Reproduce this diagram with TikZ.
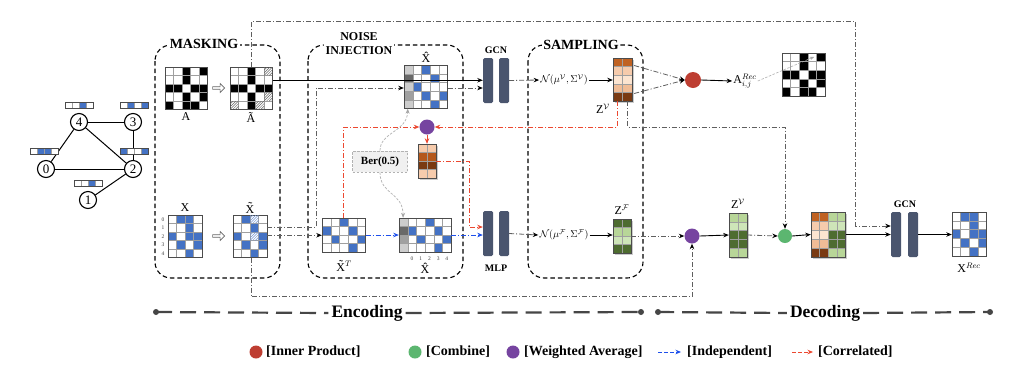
\documentclass[tikz,border=0pt]{standalone}
\usepackage{fontspec}
\setmainfont{Liberation Serif}
\usetikzlibrary{arrows.meta,calc,shapes.arrows}
\definecolor{cw}{RGB}{255,255,255}
\definecolor{cB}{RGB}{68,114,196}
\definecolor{cK}{RGB}{0,0,0}
\definecolor{cH}{RGB}{255,255,255}
\definecolor{cg}{RGB}{205,205,205}
\definecolor{cd}{RGB}{105,105,105}
\definecolor{cm}{RGB}{160,160,160}
\definecolor{cp}{RGB}{246,203,172}
\definecolor{cq}{RGB}{252,228,208}
\definecolor{cr}{RGB}{192,98,34}
\definecolor{cs}{RGB}{122,58,18}
\definecolor{ct}{RGB}{240,188,150}
\definecolor{cu}{RGB}{180,88,28}
\definecolor{cD}{RGB}{78,108,48}
\definecolor{cL}{RGB}{184,214,152}
\definecolor{cM}{RGB}{206,229,184}
\definecolor{barcol}{RGB}{74,85,110}
\definecolor{ddcol}{RGB}{95,95,95}
\definecolor{redl}{RGB}{236,72,48}
\definecolor{bluel}{RGB}{30,80,235}
\definecolor{redc}{RGB}{190,62,50}
\definecolor{greenc}{RGB}{92,182,112}
\definecolor{purpc}{RGB}{118,68,160}
\definecolor{encc}{RGB}{70,70,70}
\newcommand\drawmat[8]{%
  \foreach \rowlist [count=\ri from 0] in {#8} {%
    \foreach \cellc [count=\ci from 0] in \rowlist {%
      \fill[fill=c\cellc] ({#2+\ci*#4},{#3+\ri*#5}) rectangle ++(#4,#5);
    }%
  }%
  \foreach \ci in {0,...,#6} \draw[gridln] ({#2+\ci*#4},#3) -- ++(0,{#7*#5});
  \foreach \ri in {0,...,#7} \draw[gridln] (#2,{#3+\ri*#5}) -- ++({#6*#4},0);
  \draw[matborder] (#2,#3) rectangle ++({#6*#4},{#7*#5});
  \node[inner sep=0pt,minimum width={#6*#4},minimum height={#7*#5}] (#1) at ({#2+#6*#4/2},{#3+#7*#5/2}) {};
}
\newcommand\hatchcell[5]{%
  \begin{scope}
    \clip (#1,#2) rectangle ++(#3,#4);
    \foreach \k in {-3,...,4} \draw[#5,line width=0.5pt] ({#1+\k*2.6},{#2+#4}) -- ++(#4,{-#4});
  \end{scope}}
\newcommand\shadowbox[4]{\fill[black,opacity=0.2] ({#1+1.8},{#2+1.8}) rectangle ++(#3,#4);}
\begin{document}
\begin{tikzpicture}[x=1pt,y=-1pt,
  gridln/.style={draw=gray!75,line width=0.4pt},
  matborder/.style={draw=black!70,line width=0.7pt},
  gnode/.style={circle,draw,line width=1.1pt,fill=white,minimum size=17pt,inner sep=0pt,font=\fontsize{13}{13}\selectfont},
  gedge/.style={line width=1pt},
  region/.style={draw,line width=1.1pt,dash pattern=on 4.5pt off 3pt,rounded corners=16pt},
  reglab/.style={font=\fontsize{14}{16}\selectfont\bfseries,fill=white,inner sep=1.5pt},
  bar/.style={rectangle,rounded corners=1.5pt,fill=barcol,minimum width=10pt,minimum height=45pt,inner sep=0pt},
  barlab/.style={font=\fontsize{10}{11}\selectfont\bfseries},
  mlab/.style={font=\fontsize{12}{13}\selectfont,inner sep=1pt},
  dd/.style={dash pattern=on 5pt off 2pt on 1pt off 2pt,line width=0.8pt},
  ddarr/.style={dd,draw=ddcol,-{Stealth[length=5.5pt,width=4.5pt,color=black]}},
  sarr/.style={line width=0.9pt,-{Stealth[length=5.5pt,width=4.5pt]}},
  rarr/.style={dd,draw=redl,-{Stealth[length=5.5pt,width=4.5pt,color=redl]}},
  barr/.style={dd,draw=bluel,-{Stealth[length=5.5pt,width=4.5pt,color=bluel]}},
  dotn/.style={circle,minimum size=15pt,inner sep=0pt},
  holarr/.style={single arrow,draw=black!60,fill=white,minimum height=12pt,minimum width=9pt,single arrow head extend=2pt,inner sep=0.5pt,line width=0.6pt},
  bercurve/.style={draw=gray!60,line width=0.7pt,dash pattern=on 2.5pt off 1.5pt,-{Stealth[length=5pt,width=4pt,color=gray!70]}},
  encl/.style={draw=encc,line width=2.2pt,dash pattern=on 16pt off 8pt},
  legt/.style={font=\fontsize{14}{15}\selectfont\bfseries,anchor=west,inner sep=1pt},
  tiny5/.style={font=\fontsize{5.5}{6}\selectfont,text=black!75,inner sep=0pt}
]
\useasboundingbox (0,0) rectangle (1024,373);
\fill[white] (0,0) rectangle (1024,373);

% ---------- regions
\draw[region] (155,45) rectangle (280,278);
\draw[region] (308,45) rectangle (463,278);
\draw[region] (528,45) rectangle (643,278);

% ---------- graph
\node[gnode] (n4) at (79,122) {4};
\node[gnode] (n3) at (133,122) {3};
\node[gnode] (n0) at (46,169) {0};
\node[gnode] (n2) at (133,169) {2};
\node[gnode] (n1) at (88,200) {1};
\draw[gedge] (n4) -- (n3);
\draw[gedge] (n4) -- (n0);
\draw[gedge] (n4) -- (n2);
\draw[gedge] (n0) -- (n2);
\draw[gedge] (n3) -- (n2);
\draw[gedge] (n2) -- (n1);
\drawmat{f4}{65}{102}{7}{6}{4}{1}{{w,w,B,w}}
\drawmat{f3}{120}{102}{7}{6}{4}{1}{{w,B,w,B}}
\drawmat{f0}{30}{148}{7}{6}{4}{1}{{w,B,B,w}}
\drawmat{f2}{120}{148}{7}{6}{4}{1}{{B,w,w,B}}
\drawmat{f1}{74}{180}{7}{6}{4}{1}{{w,w,B,w}}

% ---------- masking
\drawmat{A}{165}{67}{8.5}{8.5}{5}{5}{{w,w,K,w,K},{w,w,K,w,w},{K,K,w,K,K},{w,w,K,w,K},{K,w,K,K,w}}
\drawmat{At}{230}{67}{8.5}{8.5}{5}{5}{{w,w,K,w,H},{w,w,K,w,w},{K,K,w,K,K},{w,w,K,w,H},{H,w,K,H,w}}
\hatchcell{264}{67}{8.5}{8.5}{black!60}
\hatchcell{264}{92.5}{8.5}{8.5}{black!60}
\hatchcell{230}{101}{8.5}{8.5}{black!60}
\hatchcell{255.5}{101}{8.5}{8.5}{black!60}
\drawmat{X}{168}{215}{8.5}{8.5}{4}{5}{{w,B,B,w},{w,w,B,w},{B,w,B,B},{w,B,w,B},{w,w,B,w}}
\drawmat{Xt}{233}{215}{8.5}{8.5}{4}{5}{{w,B,H,w},{w,w,B,w},{B,w,H,B},{w,B,w,B},{w,w,B,w}}
\hatchcell{250}{215}{8.5}{8.5}{cB!75}
\hatchcell{250}{232}{8.5}{8.5}{cB!75}
\foreach \k in {0,...,4} \node[tiny5] (xr\k) at (163,{219.25+\k*8.5}) {\k};
\node[holarr] (ha1) at (218,88) {};
\node[holarr] (ha2) at (218,236) {};
\node[mlab] (lA) at (186,117) {A};
\node[mlab] (lAt) at (251,117) {\~A};
\node[mlab] (lX) at (185,208) {X};
\node[mlab] (lXt) at (250,208) {\~X};

% ---------- noise injection
\drawmat{XT}{322}{218}{8.7}{8.5}{5}{4}{{w,w,B,w,w},{B,w,w,B,w},{w,B,w,w,B},{w,w,w,B,w}}
\drawmat{Xhb}{399}{218}{8.7}{8.5}{6}{4}{{g,w,w,B,w,w},{d,B,w,w,B,w},{m,w,B,w,w,B},{g,w,w,w,B,w}}
\foreach \k in {0,...,4} \node[tiny5] (xc\k) at ({399+8.7*(\k+1)+4.35},259) {\k};
\drawmat{Xht}{404}{65}{8.7}{8.7}{5}{5}{{g,w,B,w,w},{d,w,w,B,w},{g,B,w,w,w},{m,w,B,w,B},{g,w,w,B,w}}
\shadowbox{418}{144}{18}{34}
\drawmat{noise}{418}{144}{9}{8.5}{2}{4}{{p,p},{u,u},{s,s},{p,p}}
\node[mlab] (lXT) at (344,266) {\~X$^{T}$};
\node[mlab] (lXhb) at (425,268) {\^X};
\node[mlab] (lXht) at (426,57) {\^X};
\node[draw=gray!60,fill=gray!12,dash pattern=on 2.5pt off 1.5pt,line width=0.7pt,minimum width=55pt,minimum height=21pt,inner sep=0pt,font=\fontsize{11}{12}\selectfont\bfseries] (ber) at (380,161.5) {Ber(0.5)};
\node[dotn,fill=purpc] (pu1) at (427,127) {};

% ---------- encoders
\node[bar] (g1a) at (488,80.5) {};
\node[bar] (g1b) at (504,80.5) {};
\node[bar] (m1a) at (488,233.5) {};
\node[bar] (m1b) at (504,233.5) {};
\node[barlab] (lg1) at (496,50) {GCN};
\node[barlab] (lm1) at (496,268) {MLP};

% ---------- sampling
\node[font=\fontsize{10}{11}\selectfont,inner sep=1pt] (NV) at (564,80) {$\mathcal{N}(\mu^{\mathcal{V}},\Sigma^{\mathcal{V}})$};
\node[font=\fontsize{10}{11}\selectfont,inner sep=1pt] (NF) at (564,235) {$\mathcal{N}(\mu^{\mathcal{F}},\Sigma^{\mathcal{F}})$};
\shadowbox{613}{58}{19}{43}
\drawmat{ZV}{613}{58}{9.5}{8.6}{2}{5}{{r,r},{p,p},{q,q},{t,t},{s,s}}
\shadowbox{613}{219}{18}{34}
\drawmat{ZF}{613}{219}{9}{8.5}{2}{4}{{D,D},{L,L},{M,M},{D,D}}
\node[mlab] (lZV) at (603,109) {Z$^{\mathcal{V}}$};
\node[mlab] (lZF) at (622,210) {Z$^{\mathcal{F}}$};

% ---------- decoder
\node[dotn,fill=redc,minimum size=16pt] (ip) at (693,80) {};
\node[mlab] (ARl) at (745,81) {A$^{Rec}_{i,j}$};
\drawmat{AR}{782}{53}{8.6}{8.6}{5}{5}{{w,w,K,w,K},{w,w,K,w,w},{K,K,w,K,K},{w,w,K,w,K},{K,w,K,K,w}}
\node[dotn,fill=purpc] (pu2) at (692,236) {};
\shadowbox{729}{213}{18}{44}
\drawmat{ZVg}{729}{213}{9}{8.8}{2}{5}{{L,L},{M,M},{D,D},{D,D},{L,L}}
\node[mlab] (lZVg) at (738,204) {Z$^{\mathcal{V}}$};
\node[dotn,fill=greenc,minimum size=14pt] (gr) at (785,236) {};
\shadowbox{811}{212}{34.4}{45}
\drawmat{cat}{811}{212}{8.6}{9}{4}{5}{{r,r,L,L},{p,p,M,M},{q,q,D,D},{t,t,D,D},{s,s,L,L}}
\node[bar] (g2a) at (896,234.5) {};
\node[bar] (g2b) at (913,234.5) {};
\node[barlab] (lg2) at (905,204) {GCN};
\drawmat{XR}{952}{212}{8.6}{8.8}{4}{5}{{w,B,B,w},{w,w,B,w},{B,w,B,B},{w,B,w,B},{w,w,B,w}}
\node[mlab] (lXR) at (969,268) {X$^{Rec}$};

% ---------- connectors
\coordinate (s1) at ($(At.east)+(0,-8)$);
\draw[sarr] (s1) -- (s1 -| g1a.west);
\coordinate (s2) at ($(Xt.east)+(0,-9)$);
\draw[ddarr] (s2) -- ++(49,0) |- ($(Xht.west)+(0,1.25)$);
\coordinate (s3) at ($(Xht.east)+(0,1.25)$);
\draw[ddarr] (s3) -- (s3 -| g1a.west);
\coordinate (s4) at ($(Xt.east)+(0,-1)$);
\draw[ddarr] (s4) -- (s4 -| XT.west);
\draw[barr] (XT.east) -- (Xhb.west);
\draw[barr] (Xhb.east) -- (Xhb.east -| m1a.west);
\draw[rarr] (XT.north) |- (pu1.west);
\draw[rarr] ($(ZV.south)+(-5,0)$) |- (pu1.east);
\draw[rarr] (pu1.south) -- (noise.north);
\draw[rarr] (noise.east) -- ++(33,0) |- ($(m1a.west)+(0,-6.5)$);
\draw[bercurve] (ber.north) .. controls (380,132) and (407,132) .. ($(Xht.south)+(-18,0)$);
\draw[bercurve] (ber.south) .. controls (380,195) and (403,192) .. ($(Xhb.north)+(-22,0)$);
\draw[ddarr] (g1b.east) -- (NV.west);
\draw[sarr] (NV.east) -- (NV.east -| ZV.west);
\draw[ddarr] (m1b.east) -- (NF.west);
\draw[sarr] (NF.east) -- (NF.east -| ZF.west);
\draw[ddarr] ($(ZV.east)+(2,-14)$) -- (ip.west);
\draw[ddarr] ($(ZV.east)+(2,14)$) -- (ip.west);
\draw[sarr] (ip.east) -- (ARl.west);
\draw[draw=gray!60,line width=0.6pt,dash pattern=on 2.5pt off 1.5pt,-{Stealth[length=4.5pt,width=3.5pt,color=gray!70]}] (ARl.east) -- ($(AR.north east)+(-11,4)$);
\draw[ddarr] ($(ZV.south)+(5,0)$) -- ++(0,26) -| (gr.north);
\draw[ddarr] (ZF.east) -- (pu2.west);
\draw[ddarr] ($(Xt.south)+(1,0)$) -- ++(0,39) -| (pu2.south);
\draw[sarr] (pu2.east) -- (ZVg.west);
\draw[ddarr] (ZVg.east) -- (gr.west);
\draw[sarr] (gr.east) -- (cat.west);
\draw[sarr] (cat.east) -- (cat.east -| g2a.west);
\draw[ddarr] (At.north) -- ++(0,-45) -| ($(g2a.west)+(-35,-8.5)$) -- ($(g2a.west)+(0,-8.5)$);
\draw[sarr] (g2b.east) -- (g2b.east -| XR.west);

% ---------- region labels (over box edges)
\node[reglab] (lmask) at (204,44) {MASKING};
\node[reglab,align=center,font=\fontsize{12}{14}\selectfont\bfseries] (lnoise) at (359,44) {NOISE\\INJECTION};
\node[reglab] (lsamp) at (581,45) {SAMPLING};

% ---------- encoding / decoding bar
\node[font=\fontsize{17.5}{18}\selectfont\bfseries,fill=white,inner sep=3pt] (enc) at (367,313) {Encoding};
\node[circle,fill=encc,minimum size=6pt,inner sep=0pt] (e1) at (156,312) {};
\node[circle,fill=encc,minimum size=6pt,inner sep=0pt] (e2) at (641,312) {};
\draw[encl] (e1.center) -- (enc.west);
\draw[encl] (enc.east) -- (e2.center);
\node[font=\fontsize{17.5}{18}\selectfont\bfseries,fill=white,inner sep=3pt] (dec) at (825,313) {Decoding};
\node[circle,fill=encc,minimum size=6pt,inner sep=0pt] (d1) at (658,312) {};
\node[circle,fill=encc,minimum size=6pt,inner sep=0pt] (d2) at (990,312) {};
\draw[encl] (d1.center) -- (dec.west);
\draw[encl] (dec.east) -- (d2.center);

% ---------- legend
\node[dotn,fill=redc,minimum size=13pt] (lgd1) at (256,352) {};
\node[legt] (lgt1) at (265,352) {[Inner Product]};
\node[dotn,fill=greenc,minimum size=13pt] (lgd2) at (415,352) {};
\node[legt] (lgt2) at (425,352) {[Combine]};
\node[dotn,fill=purpc,minimum size=13pt] (lgd3) at (513,352) {};
\node[legt] (lgt3) at (523,352) {[Weighted Average]};
\coordinate (lb1) at (658,352);
\coordinate (lb2) at (681,352);
\draw[barr,dash pattern=on 4pt off 2pt] (lb1) -- (lb2);
\node[legt] (lgt4) at (686,352) {[Independent]};
\coordinate (lr1) at (792,352);
\coordinate (lr2) at (813,352);
\draw[rarr,dash pattern=on 4pt off 2pt] (lr1) -- (lr2);
\node[legt] (lgt5) at (817,352) {[Correlated]};
\end{tikzpicture}
\end{document}
